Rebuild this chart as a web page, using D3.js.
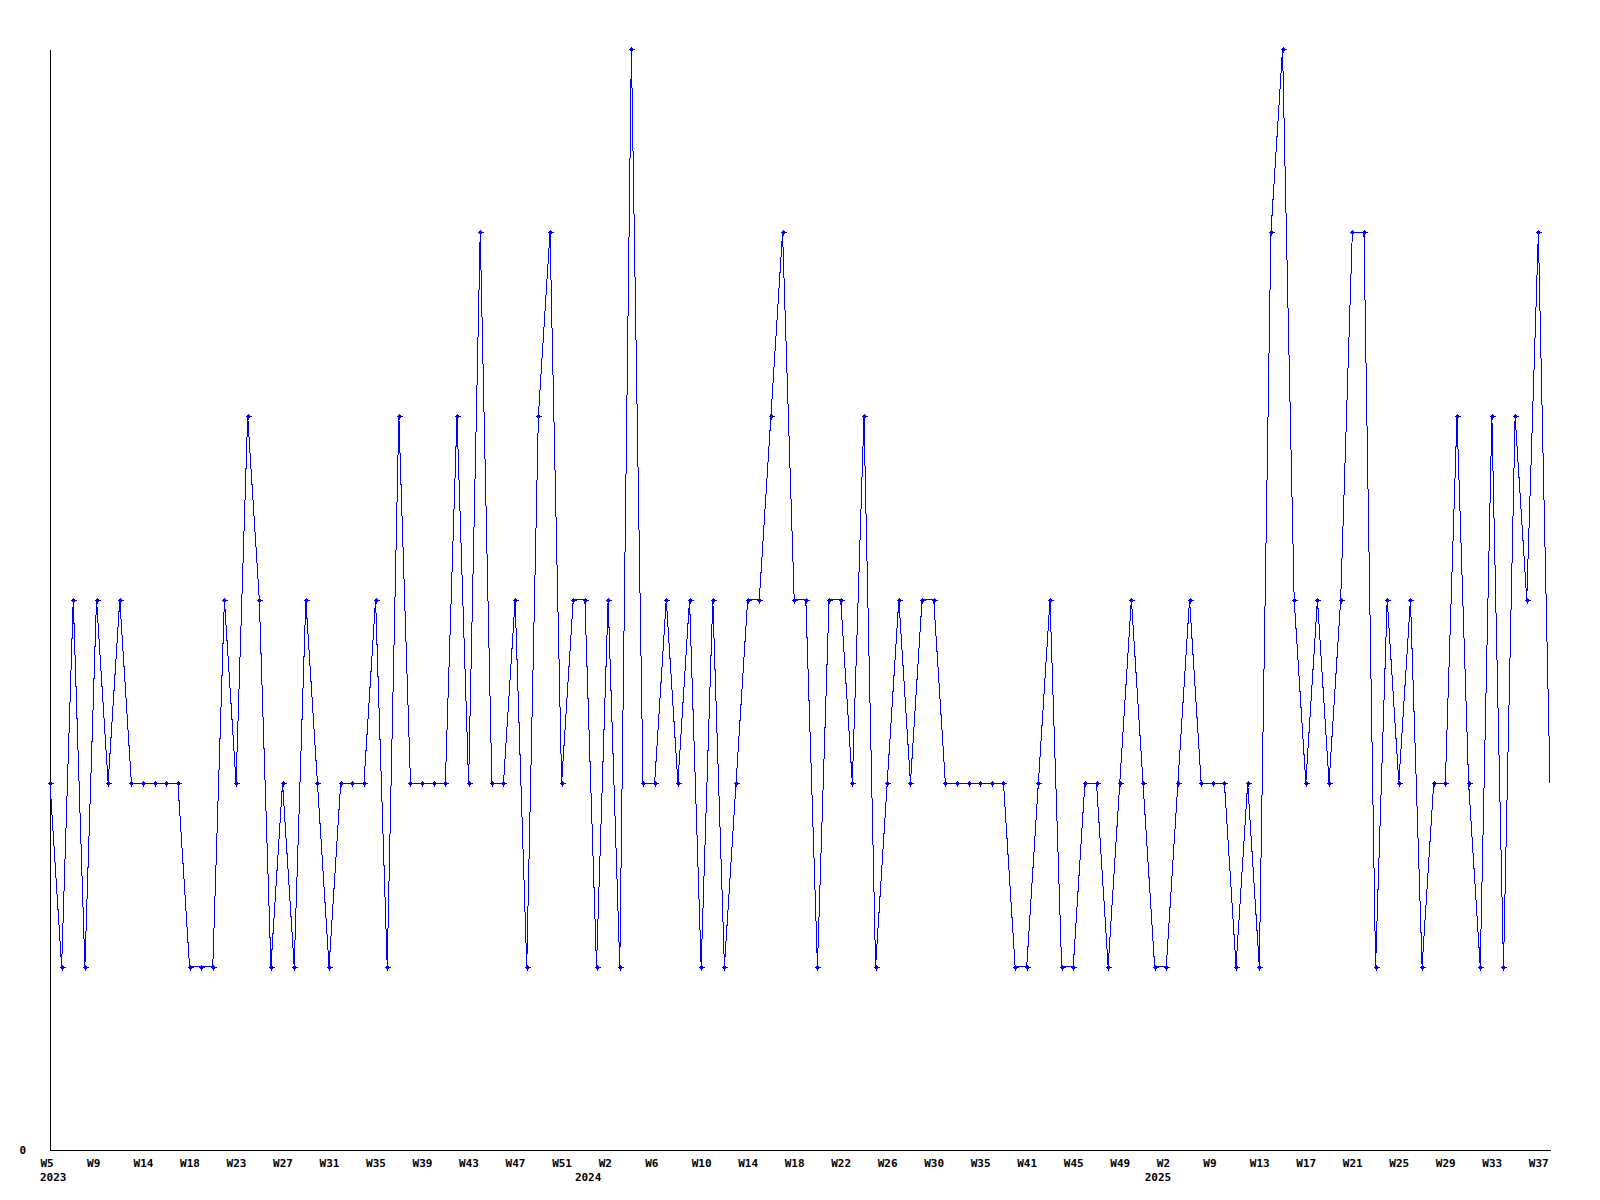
<!DOCTYPE html>
<html>
<head>
<meta charset="utf-8">
<script src="https://cdn.jsdelivr.net/npm/d3@7"></script>
<style>
  body { margin: 0; background: #fff; }
  text { font-family: "DejaVu Sans Mono", monospace; font-weight: bold; font-size: 11px; fill: #000; }
</style>
</head>
<body>
<script>
// weekly counts, one per sample
const values = [
  2, 1, 3, 1, 3, 2, 3, 2, 2, 2, 2, 2, 1, 1, 1, 3, 2, 4, 3, 1,
  2, 1, 3, 2, 1, 2, 2, 2, 3, 1, 4, 2, 2, 2, 2, 4, 2, 5, 2, 2,
  3, 1, 4, 5, 2, 3, 3, 1, 3, 1, 6, 2, 2, 3, 2, 3, 1, 3, 1, 2,
  3, 3, 4, 5, 3, 3, 1, 3, 3, 2, 4, 1, 2, 3, 2, 3, 3, 2, 2, 2,
  2, 2, 2, 1, 1, 2, 3, 1, 1, 2, 2, 1, 2, 3, 2, 1, 1, 2, 3, 2,
  2, 2, 1, 2, 1, 5, 6, 3, 2, 3, 2, 3, 5, 5, 1, 3, 2, 3, 1, 2,
  2, 4, 2, 1, 4, 1, 4, 3, 5, 2
];

// every 4th sample gets a week label
const weekLabels = [
  "W5", "W9", "W14", "W18", "W23", "W27", "W31", "W35", "W39", "W43", "W47",
  "W51", "W2", "W6", "W10", "W14", "W18", "W22", "W26", "W30", "W35", "W41",
  "W45", "W49", "W2", "W9", "W13", "W17", "W21", "W25", "W29", "W33", "W37"
];
const weekStep = 4;

const yearLabels = ["2023", "2024", "2025"];
const yearIndex = [0, 46, 95];

const yMax = 6;

const width = 1600, height = 1200;
const plotLeft = 50, plotRight = 1550, plotTop = 49, plotBottom = 1150;

const svg = d3.select("body").append("svg")
  .attr("width", width)
  .attr("height", height);

const x = d3.scaleLinear().domain([0, values.length - 1]).range([plotLeft, plotRight]);
const y = d3.scaleLinear().domain([0, yMax]).range([plotBottom, plotTop]);

// axes: plain lines, no ticks
svg.append("g")
  .attr("transform", `translate(${plotLeft},0)`)
  .call(d3.axisLeft(y).tickValues([0]).tickFormat(d3.format("d")).tickSize(0).tickPadding(24))
  .call(g => g.select(".domain").attr("stroke", "#000").attr("shape-rendering", "crispEdges"))
  .call(g => g.selectAll("text").attr("font-family", null).attr("font-size", null));

const xAxis = svg.append("g")
  .attr("transform", `translate(0,${plotBottom})`)
  .call(d3.axisBottom(x)
    .tickValues(weekLabels.map((_, i) => i * weekStep))
    .tickFormat((d, i) => weekLabels[i])
    .tickSize(0)
    .tickPadding(9));

xAxis.select(".domain").attr("stroke", "#000").attr("shape-rendering", "crispEdges");
xAxis.selectAll("text")
  .attr("font-family", null)
  .attr("font-size", null)
  .attr("text-anchor", "start")
  .attr("x", -10);

// year labels under the first week of each year
svg.append("g").selectAll("text")
  .data(yearLabels)
  .join("text")
  .attr("x", (d, i) => x(yearIndex[i]) - 10)
  .attr("y", plotBottom + 31)
  .text(d => d);

// the series
const line = d3.line()
  .x((d, i) => x(i))
  .y(d => y(d));

svg.append("path")
  .datum(values)
  .attr("d", line)
  .attr("fill", "none")
  .attr("stroke", "#0000ff")
  .attr("stroke-width", 1)
  .attr("shape-rendering", "crispEdges");

// small cross markers (the last sample has none in the source)
const marks = svg.append("g").attr("fill", "#0000ff").attr("stroke", "#0000ff")
  .attr("shape-rendering", "crispEdges");

marks.selectAll("path")
  .data(values.slice(0, -1))
  .join("path")
  .attr("d", (d, i) => {
    const cx = Math.round(x(i)) + 0.5, cy = Math.round(y(d)) + 0.5;
    return `M${cx - 3},${cy}H${cx + 3}M${cx},${cy - 3}V${cy + 3}`;
  })
  .attr("fill", "none");

marks.selectAll("rect")
  .data(values.slice(0, -1))
  .join("rect")
  .attr("x", (d, i) => Math.round(x(i)) - 1)
  .attr("y", d => Math.round(y(d)) - 1)
  .attr("width", 3)
  .attr("height", 3)
  .attr("stroke", "none");
</script>
</body>
</html>
